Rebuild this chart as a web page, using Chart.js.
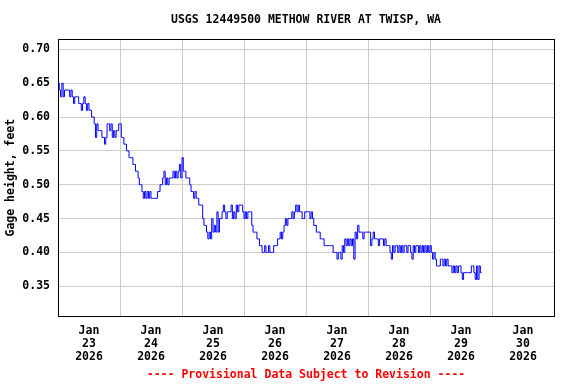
<!DOCTYPE html>
<html>
<head>
<meta charset="utf-8">
<script src="https://cdn.jsdelivr.net/npm/chart.js@4/dist/chart.umd.min.js"></script>
<style>
  html, body { margin: 0; padding: 0; background: #fff; }
  canvas { display: block; }
</style>
</head>
<body>
<canvas id="gage" width="576" height="384"></canvas>
<script>
// ── text ──
const TITLE   = 'USGS 12449500 METHOW RIVER AT TWISP, WA';
const Y_LABEL = 'Gage height, feet';
const FOOTER  = '---- Provisional Data Subject to Revision ----';

// ── x axis: hours since Jan 23 2026 00:00, one label per day (centred at noon) ──
const DAY_CENTERS = [12, 36, 60, 84, 108, 132, 156, 180];
const DAY_LABELS  = [
  ['Jan', '23', '2026'], ['Jan', '24', '2026'], ['Jan', '25', '2026'], ['Jan', '26', '2026'],
  ['Jan', '27', '2026'], ['Jan', '28', '2026'], ['Jan', '29', '2026'], ['Jan', '30', '2026']
];
const X_MIN = 0, X_MAX = 192;

// ── y axis ──
const Y_TICKS = [0.35, 0.40, 0.45, 0.50, 0.55, 0.60, 0.65, 0.70];
const Y_MIN = 0.306, Y_MAX = 0.715;

// ── gage height, feet: readings every 30 min from Jan 23 00:00 ──
const STEP_H = 0.5;
const GAGE = [
  0.65,0.64, 0.63,0.65, 0.63,0.64, 0.64,0.64, 0.64,0.63, 0.64,0.63,
  0.62,0.63, 0.63,0.63, 0.62,0.62, 0.61,0.62, 0.63,0.62, 0.61,0.62,
  0.61,0.61, 0.60,0.60, 0.59,0.57, 0.59,0.58, 0.58,0.58, 0.57,0.57,
  0.56,0.57, 0.59,0.59, 0.58,0.59, 0.57,0.58, 0.57,0.58, 0.58,0.59,
  0.59,0.57, 0.57,0.56, 0.56,0.55, 0.55,0.54, 0.54,0.54, 0.53,0.53,
  0.52,0.52, 0.51,0.50, 0.50,0.49, 0.48,0.49, 0.48,0.49, 0.48,0.49,
  0.48,0.48, 0.48,0.48, 0.48,0.49, 0.49,0.50, 0.50,0.51, 0.52,0.50,
  0.51,0.50, 0.51,0.51, 0.51,0.52, 0.51,0.52, 0.51,0.52, 0.53,0.51,
  0.54,0.52, 0.52,0.51, 0.51,0.51, 0.50,0.49, 0.49,0.48, 0.49,0.48,
  0.48,0.47, 0.47,0.47, 0.45,0.44, 0.44,0.43, 0.42,0.43, 0.42,0.45,
  0.43,0.44, 0.43,0.46, 0.43,0.45, 0.45,0.46, 0.47,0.46, 0.45,0.46,
  0.46,0.46, 0.47,0.45, 0.46,0.45, 0.47,0.46, 0.47,0.47, 0.47,0.46,
  0.45,0.46, 0.45,0.46, 0.46,0.46, 0.44,0.43, 0.43,0.43, 0.42,0.42,
  0.41,0.41, 0.40,0.40, 0.41,0.40, 0.40,0.41, 0.40,0.40, 0.40,0.41,
  0.41,0.41, 0.42,0.42, 0.43,0.42, 0.43,0.44, 0.45,0.44, 0.45,0.45,
  0.45,0.46, 0.45,0.46, 0.47,0.46, 0.47,0.46, 0.46,0.45, 0.45,0.46,
  0.46,0.46, 0.46,0.45, 0.46,0.45, 0.44,0.44, 0.43,0.43, 0.43,0.42,
  0.42,0.42, 0.41,0.41, 0.41,0.41, 0.41,0.41, 0.41,0.40, 0.40,0.40,
  0.39,0.40, 0.40,0.39, 0.41,0.40, 0.42,0.41, 0.42,0.41, 0.42,0.41,
  0.42,0.39, 0.43,0.42, 0.44,0.43, 0.43,0.43, 0.42,0.43, 0.43,0.43,
  0.43,0.43, 0.41,0.42, 0.43,0.42, 0.42,0.42, 0.41,0.42, 0.42,0.42,
  0.41,0.42, 0.41,0.41, 0.41,0.40, 0.39,0.41, 0.40,0.41, 0.41,0.40,
  0.41,0.40, 0.41,0.40, 0.41,0.41, 0.40,0.41, 0.41,0.40, 0.39,0.41,
  0.40,0.41, 0.41,0.40, 0.41,0.40, 0.41,0.40, 0.41,0.40, 0.41,0.40,
  0.41,0.40, 0.39,0.40, 0.39,0.38, 0.38,0.38, 0.39,0.39, 0.38,0.39,
  0.38,0.39, 0.38,0.38, 0.38,0.37, 0.38,0.37, 0.38,0.37, 0.38,0.38,
  0.37,0.36, 0.37,0.37, 0.37,0.37, 0.37,0.37, 0.38,0.38, 0.37,0.36,
  0.38,0.36, 0.38,0.37, 0.37
];

const FONT = 'DejaVu Sans Mono';
const GRID = '#cccccc';
const bold = (size, lh) => ({ family: FONT, size, weight: 'bold', lineHeight: lh || 1.2 });

const points = GAGE.map((v, i) => ({ x: i * STEP_H, y: v }));

new Chart(document.getElementById('gage'), {
  type: 'line',
  data: {
    datasets: [{
      data: points,
      borderColor: '#0000ff',
      borderWidth: 1,
      pointRadius: 0,
      stepped: true,
      fill: false
    }]
  },
  options: {
    responsive: false,
    animation: false,
    layout: { padding: { left: 0, right: 22, top: 0, bottom: 0 } },
    plugins: {
      legend: { display: false },
      tooltip: { enabled: false },
      title: {
        display: true, text: TITLE, fullSize: false, color: '#000',
        font: bold(11.5), padding: { top: 13.5, bottom: 12 }
      },
      subtitle: {
        display: true, text: FOOTER, position: 'bottom', fullSize: false, color: '#ff0000',
        font: bold(11.5), padding: { top: 1, bottom: 2 }
      }
    },
    scales: {
      x: {
        type: 'linear', position: 'bottom', min: X_MIN, max: X_MAX,
        afterBuildTicks: s => { s.ticks = DAY_CENTERS.map(v => ({ value: v })); },
        afterFit: s => { s.height = 51.2; },
        ticks: {
          autoSkip: false, maxRotation: 0, color: '#000', padding: 9,
          font: bold(11.5, 1.11),
          callback: (v, i) => DAY_LABELS[i]
        },
        grid: { offset: true, color: GRID, drawTicks: false },
        border: { color: '#000', width: 1 }
      },
      xTop: {
        type: 'linear', position: 'top', min: X_MIN, max: X_MAX,
        afterFit: s => { s.height = 0; },
        ticks: { display: false },
        grid: { display: false, drawTicks: false },
        border: { color: '#000', width: 1 }
      },
      y: {
        type: 'linear', position: 'left', min: Y_MIN, max: Y_MAX,
        afterBuildTicks: s => { s.ticks = Y_TICKS.map(v => ({ value: v })); },
        afterFit: s => { s.width = 58; },
        ticks: {
          color: '#000', padding: 8, font: bold(11.5),
          callback: v => v.toFixed(2)
        },
        grid: { color: GRID, drawTicks: false },
        border: { color: '#000', width: 1 },
        title: {
          display: true, text: Y_LABEL, color: '#000',
          font: bold(11.5), padding: { top: 4, bottom: 0 }
        }
      },
      yRight: {
        type: 'linear', position: 'right', min: Y_MIN, max: Y_MAX,
        afterFit: s => { s.width = 0; },
        ticks: { display: false },
        grid: { display: false, drawTicks: false },
        border: { color: '#000', width: 1 }
      }
    }
  }
});
</script>
</body>
</html>
